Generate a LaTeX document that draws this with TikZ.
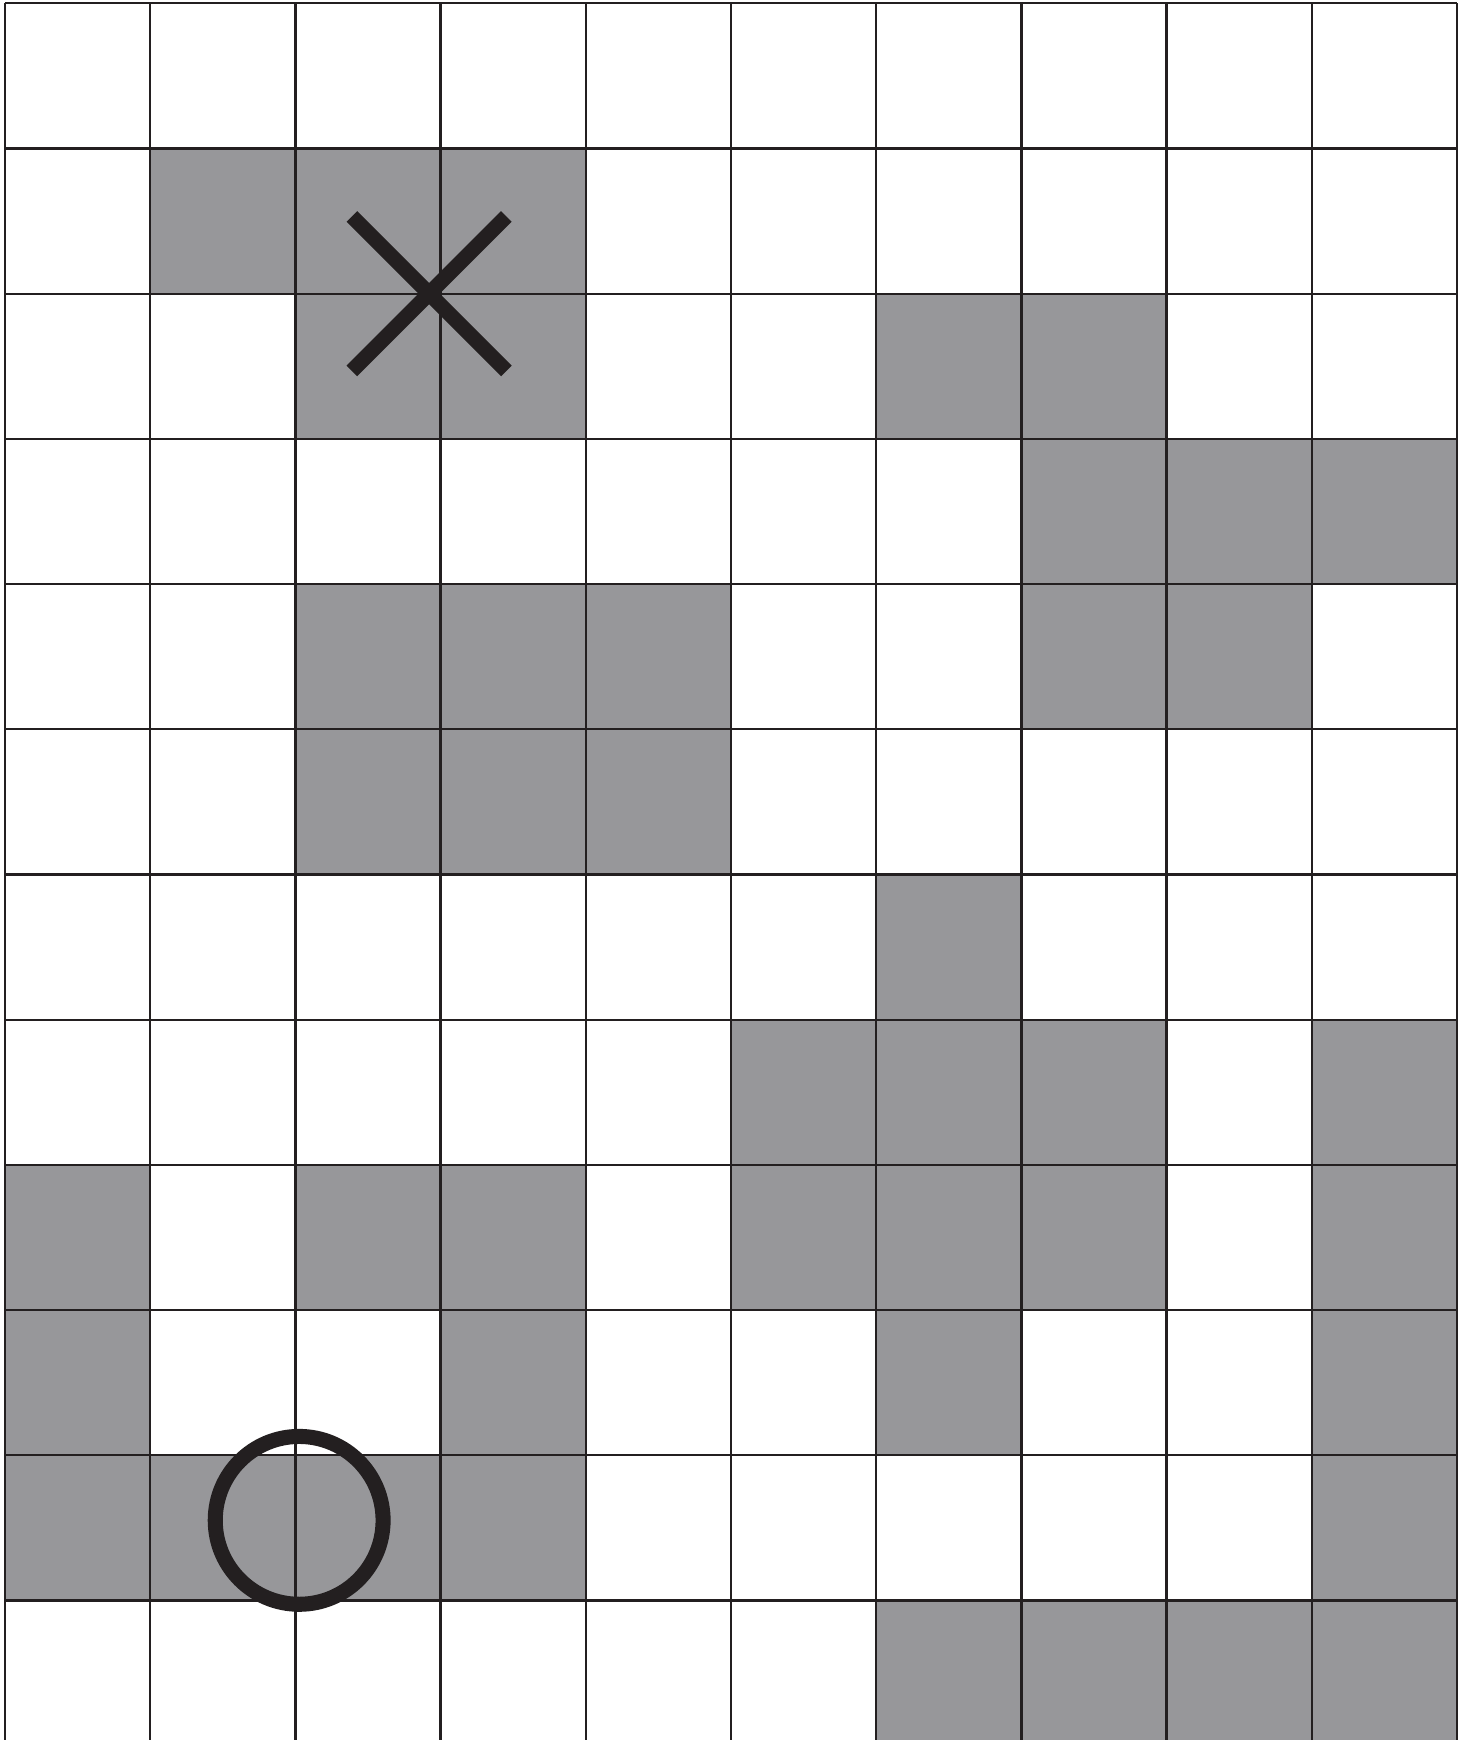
\documentclass[tikz,border=0pt]{standalone}
\usepackage{xcolor}
\usepackage{tikz}
\usetikzlibrary{calc}
\definecolor{cellgrey}{HTML}{97979A}
\definecolor{inkblack}{HTML}{231F20}
\tikzset{
  gridline/.style={draw=inkblack, line width=0.45pt},
  shadedcell/.style={fill=cellgrey},
  markline/.style={draw=inkblack, line width=2.95pt}
}

\begin{document}
\begin{tikzpicture}
% Page frame
\useasboundingbox (-0.0344,0.0227) rectangle (10.0551,-11.9608);
\clip (-0.0344,0.0227) rectangle (10.0551,-11.9608);

% Shaded cells (column/row, row 0 at top)
\foreach \cx/\cy in {1/1,2/1,3/1,
                     2/2,3/2,6/2,7/2,
                     7/3,8/3,9/3,
                     2/4,3/4,4/4,7/4,8/4,
                     2/5,3/5,4/5,
                     6/6,
                     5/7,6/7,7/7,9/7,
                     0/8,2/8,3/8,5/8,6/8,7/8,9/8,
                     0/9,3/9,6/9,9/9,
                     0/10,1/10,2/10,3/10,9/10,
                     6/11,7/11,8/11,9/11}
  \fill[shadedcell] (\cx,-\cy) rectangle ++(1,-1);

% Grid
\draw[gridline, step=1] (0,0) grid (10,-11.9608);

% Cross mark
\coordinate (cross) at (2.921,-2.0);
\draw[markline] ($(cross)+(-0.532,0.532)$) -- ($(cross)+(0.532,-0.532)$);
\draw[markline] ($(cross)+(-0.532,-0.532)$) -- ($(cross)+(0.532,0.532)$);

% Circle mark
\coordinate (ring) at (2.026,-10.448);
\draw[markline] (ring) circle[radius=0.578];
\end{tikzpicture}
\end{document}
